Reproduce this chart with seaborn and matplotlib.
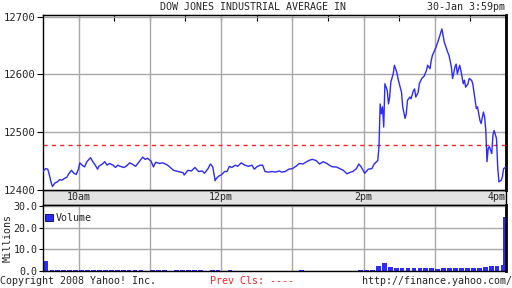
import matplotlib
matplotlib.use("Agg")
import matplotlib.pyplot as plt
import seaborn as sns
import pandas as pd
from matplotlib.patches import Rectangle

# ---------------- data ----------------
# minutes after the 9:30 open, and index value
price_minutes = [0, 2, 4, 5, 7, 8, 10, 12, 14, 16, 18, 20, 22, 24, 26, 28, 30, 31, 33, 35,
                 37, 40, 42, 44, 46, 47, 50, 52, 54, 56, 59, 61, 63, 65, 68, 70, 73, 75, 78, 81,
                 84, 86, 88, 91, 93, 95, 98, 101, 105, 110, 114, 118, 119, 122, 125, 128, 131, 134, 136, 139,
                 141, 143, 145, 146, 148, 150, 153, 155, 157, 159, 162, 164, 167, 170, 173, 176, 178, 180, 183, 185,
                 187, 190, 193, 196, 199, 201, 204, 207, 210, 213, 216, 219, 222, 225, 227, 230, 233, 236, 239, 242,
                 244, 247, 250, 253, 256, 258, 261, 264, 266, 268, 271, 274, 277, 279, 282, 283, 284, 285, 286, 287,
                 288, 290, 291, 292, 293, 295, 296, 298, 299, 302, 303, 305, 306, 307, 309, 310, 312, 313, 314, 316,
                 317, 319, 321, 323, 324, 326, 327, 328, 331, 333, 336, 337, 338, 341, 342, 344, 345, 347, 348, 349,
                 351, 352, 354, 355, 356, 358, 359, 361, 362, 364, 365, 366, 368, 369, 371, 372, 373, 374, 375, 376,
                 378, 379, 380, 382, 383, 384, 386, 387, 388, 390]
price_values = [12432, 12437, 12436, 12429, 12412, 12406, 12412, 12414, 12418, 12417, 12420, 12422, 12429, 12434, 12429, 12427, 12437, 12447, 12443, 12440,
                12449, 12456, 12449, 12443, 12436, 12441, 12445, 12449, 12443, 12446, 12443, 12439, 12443, 12441, 12439, 12441, 12447, 12445, 12441, 12449,
                12457, 12453, 12455, 12450, 12440, 12448, 12446, 12447, 12443, 12434, 12432, 12430, 12426, 12434, 12433, 12439, 12432, 12433, 12429, 12437,
                12445, 12440, 12416, 12420, 12424, 12426, 12432, 12432, 12441, 12439, 12443, 12441, 12447, 12443, 12441, 12443, 12436, 12440, 12443, 12443,
                12432, 12431, 12432, 12431, 12433, 12431, 12432, 12436, 12437, 12441, 12446, 12445, 12449, 12452, 12453, 12451, 12445, 12449, 12446, 12442,
                12440, 12440, 12437, 12434, 12428, 12430, 12432, 12437, 12445, 12440, 12429, 12436, 12437, 12445, 12451, 12475, 12549, 12532, 12544, 12509,
                12584, 12572, 12549, 12561, 12587, 12601, 12616, 12604, 12593, 12569, 12544, 12524, 12532, 12555, 12561, 12558, 12572, 12575, 12561, 12569,
                12584, 12593, 12597, 12607, 12616, 12610, 12624, 12633, 12647, 12659, 12679, 12667, 12656, 12638, 12633, 12613, 12593, 12613, 12618, 12601,
                12616, 12607, 12584, 12590, 12578, 12584, 12593, 12590, 12584, 12555, 12541, 12544, 12521, 12515, 12535, 12526, 12503, 12449, 12472, 12475,
                12463, 12495, 12503, 12489, 12440, 12414, 12417, 12423, 12437, 12440]
prev_close = 12478

# 5-minute volume buckets (start minute), in millions of shares
vol_minutes = list(range(0, 390, 5))
vol_millions = [4.5,
                0.6, 0.5, 0.5, 0.6, 0.5, 0.5, 0.5, 0.6, 0.5, 0.4, 0.5, 0.5, 0.4, 0.5,
                0.4, 0.3, 0.0, 0.3, 0.4, 0.3, 0.0, 0.3, 0.3, 0.4, 0.3, 0.3, 0.0, 0.3, 0.3, 0.0, 0.3,
                0.0, 0.0, 0.0, 0.0, 0.0, 0.0, 0.0, 0.0, 0.0, 0.0, 0.0, 0.3, 0.0, 0.0, 0.0, 0.0, 0.0, 0.0, 0.0, 0.0, 0.0,
                0.4, 0.4, 0.5,
                2.2, 3.8, 1.8, 1.6, 1.3, 1.5, 1.2, 1.6, 1.2, 1.4, 1.1, 1.3, 1.4, 1.2, 1.5, 1.3, 1.6, 1.5, 1.9, 2.2, 2.4, 3.0]
close_minute = [388.5]
close_volume = [25.0]

hour_ticks = [30, 90, 150, 210, 270, 330, 390]
hour_labels = ["10am", "", "12pm", "", "2pm", "", "4pm"]
half_hour_ticks = [30, 60, 90, 120, 150, 180, 210, 240, 270, 300, 330, 360, 390]
price_ticks = [12400, 12500, 12600, 12700]
vol_ticks = [0, 10, 20, 30]
vol_tick_labels = ["0.0", "10.0", "20.0", "30.0"]

title = "DOW JONES INDUSTRIAL AVERAGE IN"
stamp = "30-Jan 3:59pm"

# ---------------- style ----------------
sns.set_style("white")
plt.rcParams["font.family"] = ["DejaVu Sans Mono"]
FS = 7.2
BLUE = "#2b2bff"
GRID = "#a8a8a8"

W, H = 512, 288
fig = plt.figure(figsize=(W / 100, H / 100), dpi=100)
fig.patch.set_facecolor("white")


def rect(l, t, r, b):
    return [l / W, 1 - b / H, (r - l) / W, (b - t) / H]


ax = fig.add_axes(rect(43, 15, 506, 190))
axv = fig.add_axes(rect(43, 205, 506, 271))

# grey time band
fig.add_artist(Rectangle((43 / W, 1 - 205 / H), (506 - 43) / W, 15 / H,
                         transform=fig.transFigure, facecolor="#e2e2e2",
                         edgecolor="black", linewidth=1, zorder=0))

# ---------------- price panel ----------------
df_price = pd.DataFrame({"minute": price_minutes, "value": price_values})
sns.lineplot(data=df_price, x="minute", y="value", ax=ax, color=BLUE, linewidth=1, zorder=3)
ax.axhline(prev_close, color="#ff2020", linestyle=(0, (3, 3)), linewidth=1, zorder=2)
ax.set_xlim(0, 390)
ax.set_ylim(12400, 12703)
ax.set_xticks(hour_ticks, hour_labels, fontsize=FS)
ax.set_xticks(half_hour_ticks, minor=True)
ax.set_yticks(price_ticks, [str(v) for v in price_ticks], fontsize=7.6)
ax.grid(True, which="major", color=GRID, linewidth=1)
ax.set_axisbelow(True)
ax.tick_params(axis="x", which="major", length=0, pad=1.5)
ax.tick_params(axis="x", which="minor", length=2, direction="out", color="black")
ax.tick_params(axis="y", length=4, direction="out", color="black", pad=1, left=True)
ax.set_xlabel("")
ax.set_ylabel("")
labs = ax.get_xticklabels()
labs[-1].set_horizontalalignment("right")
for s in ax.spines.values():
    s.set_color("black")
    s.set_linewidth(1)
ax.spines["right"].set_linewidth(2)

top = ax.secondary_xaxis("top")
top.set_xticks(half_hour_ticks, [""] * len(half_hour_ticks))
top.tick_params(direction="in", length=4, color="black")
right = ax.secondary_yaxis("right")
right.set_yticks(price_ticks, [""] * len(price_ticks))
right.tick_params(direction="in", length=3, color="black")

# ---------------- volume panel ----------------
df_vol = pd.DataFrame({"minute": [m + 2.5 for m in vol_minutes], "vol": vol_millions})
sns.barplot(data=df_vol, x="minute", y="vol", ax=axv, native_scale=True, color=BLUE,
            saturation=1, width=0.8, errorbar=None, linewidth=0, label="Volume")
df_close = pd.DataFrame({"minute": close_minute, "vol": close_volume})
sns.barplot(data=df_close, x="minute", y="vol", ax=axv, native_scale=True, color=BLUE,
            saturation=1, width=1.5, errorbar=None, linewidth=0)
axv.set_xlim(0, 390)
axv.set_ylim(0, 30.5)
axv.set_xticks(hour_ticks, [""] * len(hour_ticks))
axv.set_yticks(vol_ticks, vol_tick_labels, fontsize=FS)
axv.grid(True, which="major", color=GRID, linewidth=1)
axv.set_axisbelow(True)
axv.tick_params(axis="x", length=0)
axv.tick_params(axis="y", length=3, direction="out", color="black", pad=1, left=True)
axv.set_xlabel("")
axv.set_ylabel("")
for s in axv.spines.values():
    s.set_color("black")
    s.set_linewidth(1)
axv.spines["right"].set_linewidth(2)
for lab in axv.get_yticklabels():
    lab.set_verticalalignment("center_baseline")
leg = axv.legend(loc="upper left", bbox_to_anchor=(0.0, 0.91), frameon=False, fontsize=FS,
                 handlelength=0.75, handleheight=0.75, handletextpad=0.3,
                 borderaxespad=0.0, borderpad=0.2)
for h in leg.legend_handles:
    h.set_edgecolor("#000060")
    h.set_linewidth(0.6)

fig.text(7.5 / W, 1 - 238 / H, "Millions", rotation=90, ha="center", va="center", fontsize=FS)

# ---------------- header / footer ----------------
fig.text(253 / W, 1 - 10.5 / H, title, ha="center", va="baseline", fontsize=FS)
fig.text(505 / W, 1 - 10.5 / H, stamp, ha="right", va="baseline", fontsize=FS)
fig.text(0, 1 - 284 / H, "Copyright 2008 Yahoo! Inc.", ha="left", va="baseline", fontsize=FS)
fig.text(210 / W, 1 - 284 / H, "Prev Cls: ----", ha="left", va="baseline", fontsize=FS, color="#ff2020")
fig.text(1, 1 - 284 / H, "http://finance.yahoo.com/", ha="right", va="baseline", fontsize=FS)

fig.savefig("out.png", dpi=100, facecolor="white")
